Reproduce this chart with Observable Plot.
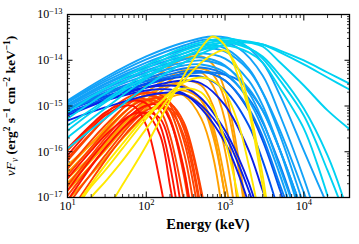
<!DOCTYPE html>
<html><head><meta charset="utf-8">
<script src="https://cdn.jsdelivr.net/npm/d3@7"></script>
<script src="https://cdn.jsdelivr.net/npm/@observablehq/plot@0.6"></script>
<style>body{margin:0;background:#fff;}</style>
</head><body><div id="chart"></div>
<script>
// Spectra: each curve is a list of [Energy keV, nuFnu erg^2 s^-1 cm^-2 keV^-1]
const redSpectra = [
  [[10,8.3e-17],[20,3.2e-16],[30,6.2e-16],[50,9.8e-16],[70,9.8e-16],[100,3.75e-16],[150,2.1e-17],[200,1.15e-18]],
  [[10,2.6e-17],[20,1.06e-16],[30,2.27e-16],[50,4.8e-16],[70,6.8e-16],[100,6.8e-16],[150,2.27e-16],[200,1.82e-17],[250,1.9e-18]],
  [[10,1.18e-16],[20,3.9e-16],[30,7.2e-16],[50,1.13e-15],[70,1.32e-15],[100,1.13e-15],[150,3.75e-16],[200,5.05e-17],[300,6.9e-19]],
  [[10,8.6e-18],[15,2.35e-17],[20,4.8e-17],[30,1.18e-16],[50,3.2e-16],[70,5.3e-16],[100,7.2e-16],[150,5.3e-16],[200,1.37e-16],[300,2.4e-18]],
  [[10,1.42e-17],[20,7.1e-17],[30,1.67e-16],[50,4.4e-16],[70,7.2e-16],[100,1.03e-15],[150,1.03e-15],[200,4.8e-16],[300,3.9e-17],[400,1.9e-18]]
];
const orangeRedSpectra = [
  [[10,6.4e-17],[20,2.5e-16],[30,5.3e-16],[50,1.13e-15],[70,1.61e-15],[100,1.97e-15],[150,1.78e-15],[200,1.08e-15],[300,1.76e-16],[400,1.82e-17],[500,1.9e-18]],
  [[10,4.3e-17],[20,1.76e-16],[30,3.75e-16],[50,8.8e-16],[70,1.32e-15],[100,1.69e-15],[150,1.46e-15],[200,8.0e-16],[300,9.6e-17],[400,6.7e-18]],
  [[10,3.05e-17],[20,1.24e-16],[30,2.75e-16],[50,6.8e-16],[70,1.08e-15],[100,1.39e-15],[150,1.13e-15],[200,5.3e-16],[300,4.3e-17],[400,1.9e-18]],
  [[10,1.06e-16],[20,3.6e-16],[30,6.8e-16],[50,1.32e-15],[70,1.78e-15],[100,1.87e-15],[150,1.32e-15],[200,5.3e-16],[300,3.05e-17],[400,1.15e-18]],
  [[10,1.82e-17],[20,8.3e-17],[30,1.95e-16],[50,5.3e-16],[70,8.8e-16],[100,1.32e-15],[150,1.53e-15],[200,1.19e-15],[300,3.2e-16],[500,5.2e-18]],
  [[10,1.1e-17],[20,5.05e-17],[30,1.18e-16],[50,3.2e-16],[70,5.9e-16],[100,9.8e-16],[150,1.25e-15],[200,1.13e-15],[300,4.4e-16],[500,1.42e-17],[600,1.9e-18]],
  [[10,6.7e-18],[20,3.35e-17],[30,8.3e-17],[50,2.5e-16],[70,4.8e-16],[100,8.0e-16],[150,9.8e-16],[200,8.0e-16],[300,2.27e-16],[500,4.0e-18]],
  [[10,7.1e-17],[20,2.6e-16],[30,5.3e-16],[50,1.08e-15],[70,1.39e-15],[100,1.39e-15],[150,8.0e-16],[200,2.27e-16],[300,8.6e-18]],
  [[10,4.0e-18],[20,2.35e-17],[30,6.4e-17],[50,2.05e-16],[70,3.9e-16],[100,6.8e-16],[150,9.3e-16],[200,8.8e-16],[300,3.75e-16],[500,1.1e-17]]
];
const orangeSpectra = [
  [[10,3.5e-17],[20,1.18e-16],[30,2.5e-16],[50,6.5e-16],[100,1.97e-15],[200,4.4e-15],[300,6.0e-15],[500,5.4e-15],[700,2.8e-15],[1000,4.8e-16],[1500,4.0e-18]],
  [[10,2.1e-17],[20,7.1e-17],[30,1.5e-16],[50,3.9e-16],[100,1.19e-15],[200,2.8e-15],[300,3.6e-15],[500,2.8e-15],[700,1.03e-15],[1000,1.06e-16],[1500,1.15e-18]],
  [[10,5.05e-17],[20,1.5e-16],[30,2.9e-16],[50,6.8e-16],[100,1.69e-15],[200,2.95e-15],[300,2.8e-15],[500,1.32e-15],[700,2.9e-16],[1000,1.1e-17],[1300,1.2e-18]],
  [[10,1.42e-17],[20,5.05e-17],[30,1.06e-16],[50,2.9e-16],[100,8.8e-16],[200,1.97e-15],[300,2.18e-15],[500,1.32e-15],[700,3.75e-16],[1000,2.35e-17],[1500,4.2e-19]],
  [[10,2.6e-17],[20,7.9e-17],[30,1.59e-16],[50,3.9e-16],[100,1.08e-15],[200,1.97e-15],[300,1.69e-15],[500,5.3e-16],[700,8.3e-17],[1000,1.9e-18]],
  [[10,8.6e-18],[20,3.2e-17],[30,7.1e-17],[50,1.95e-16],[100,6.5e-16],[200,1.53e-15],[300,1.78e-15],[500,1.03e-15],[700,2.27e-16],[1000,1.1e-17]],
  [[10,4.3e-17],[20,1.5e-16],[30,3.2e-16],[50,8.8e-16],[100,2.95e-15],[200,7.3e-15],[300,1.09e-14],[500,1.21e-14],[700,8.1e-15],[1000,2.18e-15],[1500,6.4e-17],[2000,1.9e-18]],
  [[10,1.74e-17],[20,6.4e-17],[30,1.37e-16],[50,3.75e-16],[100,1.32e-15],[200,3.6e-15],[300,5.4e-15],[500,6.6e-15],[700,4.9e-15],[1000,1.32e-15],[1500,3.9e-17],[2000,1.15e-18]]
];
const darkBlueSpectra = [
  [[10,8.8e-16],[30,1.61e-15],[100,2.54e-15],[200,2.8e-15],[300,2.54e-15],[500,1.46e-15],[1000,2.9e-16],[1500,7.1e-17],[2000,2.1e-17],[3000,2.4e-18]],
  [[10,7.2e-16],[30,1.32e-15],[100,2.18e-15],[200,2.3e-15],[300,1.87e-15],[500,8.8e-16],[1000,1.59e-16],[1500,3.05e-17],[2000,7.3e-18]],
  [[10,6.2e-16],[30,1.32e-15],[100,2.54e-15],[300,3.6e-15],[500,3.1e-15],[1000,1.03e-15],[2000,1.06e-16],[3000,1.42e-17],[5000,1.15e-18]],
  [[10,4.8e-16],[30,9.3e-16],[100,1.69e-15],[200,1.97e-15],[300,1.78e-15],[500,1.03e-15],[1000,2.27e-16],[1500,5.05e-17],[2000,1.42e-17],[3000,1.9e-18]]
];
const blueSpectra = [
  [[10,6.8e-16],[30,1.46e-15],[100,2.95e-15],[300,4.4e-15],[500,4.4e-15],[1000,2.18e-15],[2000,3.75e-16],[3000,6.4e-17],[5000,4.0e-18]],
  [[10,8.0e-16],[30,1.61e-15],[100,3.1e-15],[300,5.1e-15],[500,5.7e-15],[1000,3.6e-15],[2000,8.0e-16],[3000,1.76e-16],[5000,1.42e-17],[7000,2.4e-18]]
];
const midBlueSpectra = [
  [[10,8.8e-16],[30,1.97e-15],[100,4.0e-15],[300,6.6e-15],[500,6.95e-15],[1000,4.9e-15],[2000,1.46e-15],[3000,4.4e-16],[5000,5.05e-17],[7000,9.5e-18]],
  [[10,8.0e-16],[30,1.78e-15],[100,3.6e-15],[300,5.7e-15],[500,5.7e-15],[1000,3.6e-15],[2000,8.8e-16],[3000,2.15e-16],[5000,1.82e-17],[7000,4.0e-18]],
  [[10,8.4e-16],[30,1.87e-15],[100,3.45e-15],[300,4.9e-15],[700,5.4e-15],[1500,3.6e-15],[3000,8.0e-16],[5000,1.06e-16],[10000,4.0e-18]]
];
const lightBlueSpectra = [
  [[10,1.32e-15],[30,4.2e-15],[100,1.21e-14],[300,2.44e-14],[700,3.31e-14],[1500,2.57e-14],[3000,8.9e-15],[5000,1.69e-15],[10000,1.06e-16],[15000,2.1e-17],[20000,6.7e-18]],
  [[10,1.25e-15],[30,3.8e-15],[100,1.04e-14],[300,2.1e-14],[600,2.85e-14],[1500,1.81e-14],[3000,4.65e-15],[5000,6.2e-16],[10000,2.6e-17],[15000,3.1e-18]],
  [[10,1.19e-15],[30,3.45e-15],[100,8.9e-15],[300,1.72e-14],[500,2.21e-14],[1000,1.81e-14],[2000,6.6e-15],[3000,1.97e-15],[5000,2.27e-16],[10000,6.7e-18]],
  [[10,1.08e-15],[30,3.1e-15],[100,7.7e-15],[300,1.41e-14],[500,1.81e-14],[1000,1.55e-14],[2000,6.0e-15],[3000,1.97e-15],[5000,2.9e-16],[10000,1.29e-17],[15000,1.9e-18]],
  [[10,1.03e-15],[30,2.95e-15],[100,6.95e-15],[300,1.21e-14],[500,1.41e-14],[1000,1.09e-14],[2000,3.6e-15],[3000,1.03e-15],[5000,1.06e-16],[7000,1.82e-17],[10000,2.4e-18]],
  [[10,1.03e-15],[30,2.67e-15],[100,6.0e-15],[300,1.04e-14],[500,1.15e-14],[1000,7.7e-15],[2000,1.97e-15],[3000,4.8e-16],[5000,4.3e-17],[7000,8.6e-18]],
  [[10,9.8e-16],[30,2.41e-15],[100,5.4e-15],[300,8.9e-15],[500,9.9e-15],[1000,7.3e-15],[2000,2.41e-15],[3000,8.0e-16],[5000,1.06e-16],[10000,4.0e-18]],
  [[10,8.8e-16],[30,2.18e-15],[100,4.65e-15],[300,7.7e-15],[500,8.1e-15],[1000,5.4e-15],[2000,1.32e-15],[3000,3.2e-16],[5000,3.05e-17],[7000,5.2e-18]]
];
const cyanSpectra = [
  [[10,2.05e-16],[30,8.8e-16],[100,4.0e-15],[300,1.15e-14],[1000,2.57e-14],[1500,2.7e-14],[3000,2.21e-14],[5000,1.63e-14],[10000,9.9e-15],[20000,5.4e-15],[40000,2.95e-15]],
  [[10,1.18e-16],[30,5.3e-16],[100,2.67e-15],[300,8.9e-15],[1000,2.21e-14],[2000,2.44e-14],[3000,2.21e-14],[5000,1.48e-14],[10000,8.1e-15],[20000,4.2e-15],[40000,2.18e-15]],
  [[10,7.2e-16],[30,2.41e-15],[100,7.7e-15],[300,1.9e-14],[1000,2.99e-14],[2000,2.44e-14],[3000,2.0e-14],[5000,8.9e-15],[10000,2.8e-15],[20000,8.0e-16],[40000,2.9e-16]],
  [[10,5.3e-16],[30,1.87e-15],[100,6.6e-15],[300,1.63e-14],[1000,2.7e-14],[2000,1.9e-14],[3000,1.09e-14],[5000,3.6e-15],[10000,6.2e-16],[20000,3.9e-17],[30000,6.7e-18]],
  [[10,3.75e-16],[30,1.32e-15],[100,5.15e-15],[300,1.41e-14],[1000,2.44e-14],[2000,1.81e-14],[3000,1.21e-14],[5000,4.65e-15],[10000,8.8e-16],[20000,8.3e-17],[30000,1.29e-17],[40000,2.4e-18]],
  [[10,2.9e-16],[30,1.19e-15],[100,4.4e-15],[300,1.21e-14],[1000,2.1e-14],[2000,1.48e-14],[3000,8.9e-15],[5000,2.41e-15],[10000,3.2e-16],[15000,5.05e-17],[20000,1.1e-17]]
];
const yellowSpectra = [
  [[30,4.5e-18],[50,1.9e-17],[100,1.37e-16],[200,1.32e-15],[300,4.65e-15],[500,1.9e-14],[700,3.31e-14],[1000,2.1e-14],[1500,4.0e-15],[2000,8.0e-16],[3000,1.82e-17],[3500,4.0e-18]],
  [[15,4.0e-18],[20,1.0e-17],[30,2.2e-17],[50,6.4e-17],[100,3.2e-16],[200,1.61e-15],[300,3.6e-15],[500,8.9e-15],[700,1.34e-14],[1000,1.63e-14],[1500,6.0e-15],[2000,1.03e-15],[3000,3.05e-17],[3500,5.2e-18]],
  [[10,2.4e-18],[15,8.6e-18],[20,1.74e-17],[30,3.9e-17],[50,1.18e-16],[100,5.3e-16],[200,1.97e-15],[300,3.3e-15],[500,4.2e-15],[700,3.6e-15],[1000,1.97e-15],[1500,3.75e-16],[2000,5.05e-17],[2500,8.6e-18]],
  [[10,4.0e-18],[15,1.0e-17],[30,5.05e-17],[50,1.5e-16],[100,6.2e-16],[200,1.78e-15],[300,2.41e-15],[500,1.97e-15],[700,8.8e-16],[1000,1.76e-16],[1500,8.6e-18]]
];

const seriesOrder = ["orange","orangeRed","red","darkBlue","blue","midBlue","lightBlue","cyan","yellow"];
const seriesData = {red: redSpectra, orangeRed: orangeRedSpectra, orange: orangeSpectra, darkBlue: darkBlueSpectra,
  blue: blueSpectra, midBlue: midBlueSpectra, lightBlue: lightBlueSpectra, cyan: cyanSpectra, yellow: yellowSpectra};
const palette = {red:"#ff1400", orangeRed:"#ff4200", orange:"#ffa000", darkBlue:"#0a1ee6", blue:"#0050f0",
  midBlue:"#0a7af0", lightBlue:"#12a2f8", cyan:"#00d2f2", yellow:"#ffe800"};

const xMajor = [10, 100, 1000, 10000];
const xMajorLabels = ["10^1","10^2","10^3","10^4"];
const yMajor = [1e-17, 1e-16, 1e-15, 1e-14, 1e-13];
const yMajorLabels = ["10^\u221217","10^\u221216","10^\u221215","10^\u221214","10^\u221213"];
const xMinor = [];
[10,100,1000,10000].forEach(d => [2,3,4,5,6,7,8,9].forEach(m => { if (d*m <= 38000) xMinor.push(d*m); }));
const yMinor = [];
[1e-17,1e-16,1e-15,1e-14].forEach(d => [2,3,4,5,6,7,8,9].forEach(m => yMinor.push(d*m)));

const rows = [];
seriesOrder.forEach(key => seriesData[key].forEach((curve, i) => curve.forEach(([E, F]) =>
  rows.push({E, F, id: key + i, color: palette[key]}))));

const noText = () => "";
const plot = Plot.plot({
  width: 359, height: 244,
  marginLeft: 67, marginRight: 10, marginTop: 14, marginBottom: 47,
  style: {fontFamily: "'Liberation Serif', serif", fontSize: "12px", background: "white", color: "black", overflow: "visible"},
  x: {type: "log", domain: [10, 38000], axis: null},
  y: {type: "log", domain: [1e-17, 1e-13], axis: null},
  color: {type: "identity"},
  marks: [
    Plot.line(rows, {x: "E", y: "F", z: "id", stroke: "color", strokeWidth: 1.9, curve: "catmull-rom", clip: true}),
    Plot.axisX(xMajor, {anchor: "bottom", tickSize: -5.5, tickFormat: noText, label: null, strokeWidth: 1}),
    Plot.axisX(xMajor, {anchor: "top", tickSize: -5.5, tickFormat: noText, label: null, strokeWidth: 1}),
    Plot.axisX(xMinor, {anchor: "bottom", tickSize: -3, tickFormat: noText, label: null, strokeWidth: 0.8}),
    Plot.axisX(xMinor, {anchor: "top", tickSize: -3, tickFormat: noText, label: null, strokeWidth: 0.8}),
    Plot.axisY(yMajor, {anchor: "left", tickSize: -5.5, tickFormat: noText, label: null, strokeWidth: 1}),
    Plot.axisY(yMajor, {anchor: "right", tickSize: -5.5, tickFormat: noText, label: null, strokeWidth: 1}),
    Plot.axisY(yMinor, {anchor: "left", tickSize: -3, tickFormat: noText, label: null, strokeWidth: 0.8}),
    Plot.axisY(yMinor, {anchor: "right", tickSize: -3, tickFormat: noText, label: null, strokeWidth: 0.8}),
    Plot.text(xMajor, {x: d => d, frameAnchor: "bottom", dy: 12, text: (d, i) => xMajorLabels[i], fontSize: 12}),
    Plot.text(yMajor, {y: d => d, frameAnchor: "left", dx: -5, textAnchor: "end", text: (d, i) => yMajorLabels[i], fontSize: 12}),
    Plot.frame({stroke: "black", strokeWidth: 1.3})
  ]
});

const svg = d3.select(plot);
svg.selectAll("text").each(function () {
  const t = this.textContent;
  const m = t.match(/^10\^(.+)$/);
  if (m) {
    const s = d3.select(this);
    s.text("10");
    s.append("tspan").attr("dy", "-0.5em").attr("font-size", "8.5px").text(m[1]);
  }
});

const labelFont = "'Liberation Serif', serif";
svg.append("text")
  .attr("x", 208).attr("y", 229)
  .attr("text-anchor", "middle")
  .attr("font-family", labelFont).attr("font-weight", "bold").attr("font-size", 14.5)
  .attr("fill", "black")
  .text("Energy (keV)");

const yl = svg.append("text")
  .attr("transform", "translate(15,106) rotate(-90)")
  .attr("text-anchor", "middle")
  .attr("font-family", labelFont).attr("font-weight", "bold").attr("font-size", 13.5)
  .attr("fill", "black");
const parts = [
  ["\u03BD", "i", 0], ["F", "i", 0], ["\u03BD", "i", -1], [" (erg", "", 0], ["2", "", 1], [" s", "", 0], ["\u22121", "", 1],
  [" cm", "", 0], ["\u22122", "", 1], [" keV", "", 0], ["\u22121", "", 1], [")", "", 0]
];
let shift = 0;
parts.forEach(([txt, style, level]) => {
  const target = level === 1 ? -5 : level === -1 ? 3 : 0;
  const ts = yl.append("tspan").attr("dy", target - shift).text(txt);
  if (style === "i") ts.attr("font-style", "italic").attr("font-weight", "normal");
  if (level !== 0) ts.attr("font-size", 9.5);
  shift = target;
});

document.getElementById("chart").appendChild(plot);
</script>
</body></html>
